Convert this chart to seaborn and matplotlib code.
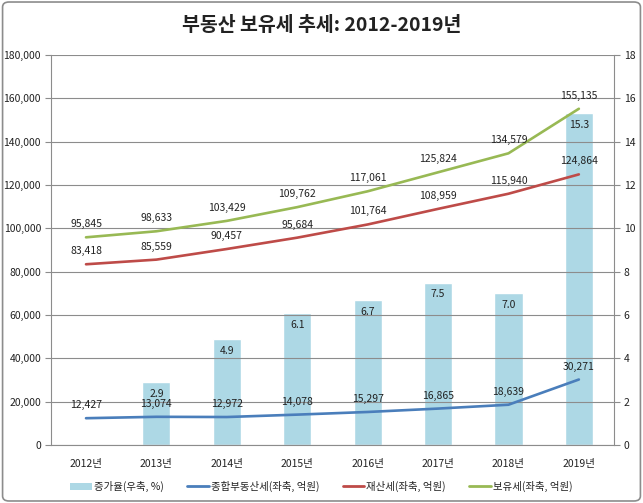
import numpy as np
import pandas as pd
import matplotlib
matplotlib.use('Agg')
import matplotlib.pyplot as plt
import seaborn as sns
from matplotlib.patches import FancyBboxPatch, Patch
from matplotlib.lines import Line2D
from matplotlib.ticker import FuncFormatter, MultipleLocator

# 데이터
years = ['2012년', '2013년', '2014년', '2015년', '2016년', '2017년', '2018년', '2019년']
rate = [0, 2.9, 4.9, 6.1, 6.7, 7.5, 7.0, 15.3]          # 증가율(우축, %)
jongbu = [12427, 13074, 12972, 14078, 15297, 16865, 18639, 30271]      # 종합부동산세
jaesan = [83418, 85559, 90457, 95684, 101764, 108959, 115940, 124864]  # 재산세
boyu = [95845, 98633, 103429, 109762, 117061, 125824, 134579, 155135]  # 보유세

bar_color = '#ADD8E5'
c_blue = '#4A7EBB'
c_red = '#BE4B48'
c_green = '#98B954'
grid_c = '#8C8C8C'

sns.set_style('white')
plt.rcParams['font.family'] = ['Noto Sans CJK KR', 'DejaVu Sans']

fig = plt.figure(figsize=(6.43, 5.03), dpi=100)
ax = fig.add_axes([0.079, 0.115, 0.876, 0.776])

df = pd.DataFrame({'year': years, 'rate': rate})
sns.barplot(data=df, x='year', y='rate', color=bar_color, width=0.4,
            saturation=1, ax=ax, zorder=1)
ax.set_ylim(0, 18)
ax.yaxis.set_major_locator(MultipleLocator(2))
ax.grid(axis='y', color=grid_c, linewidth=0.8, zorder=2)
ax.set_axisbelow(False)
ax.set_xlabel('')
ax.set_ylabel('')

for i, v in enumerate(rate):
    if v > 0:
        ax.text(i, v - 0.55, f'{v:.1f}', ha='center', va='center', fontsize=7.5,
                color='#222222', zorder=5)

ax2 = ax.twinx()
x = np.arange(len(years))
for vals, col in [(jongbu, c_blue), (jaesan, c_red), (boyu, c_green)]:
    sns.lineplot(x=x, y=vals, color=col, linewidth=1.9, ax=ax2, zorder=4)
    for i, v in enumerate(vals):
        ax2.text(i, v + 6000, f'{v:,}', ha='center', va='center', fontsize=7.5,
                 color='#222222', zorder=5)
ax2.set_ylim(0, 180000)
ax2.yaxis.set_major_locator(MultipleLocator(20000))
ax2.yaxis.set_major_formatter(FuncFormatter(lambda v, p: f'{int(v):,}'))
ax2.set_xlim(-0.5, len(years) - 0.5)
ax.set_xlim(-0.5, len(years) - 0.5)

# 증가율은 오른쪽 축, 금액은 왼쪽 축
ax.yaxis.tick_right()
ax.yaxis.set_label_position('right')
ax2.yaxis.tick_left()
ax2.yaxis.set_label_position('left')

for a in (ax, ax2):
    for s in a.spines.values():
        s.set_visible(False)
    a.tick_params(axis='y', length=4, width=0.8, color=grid_c, labelsize=7.5,
                  labelcolor='#222222', pad=3)
ax2.spines['left'].set_visible(True)
ax2.spines['left'].set_color(grid_c)
ax.spines['right'].set_visible(True)
ax.spines['right'].set_color(grid_c)
ax.spines['bottom'].set_visible(True)
ax.spines['bottom'].set_color(grid_c)

ax.set_xticks(x)
ax.set_xticklabels(years)
ax.set_xticks(np.arange(-0.5, len(years)), minor=True)
ax.tick_params(axis='x', which='major', length=0, labelsize=7.5,
               labelcolor='#222222', pad=10)
ax.tick_params(axis='x', which='minor', length=4, width=0.8, color=grid_c)

fig.suptitle('부동산 보유세 추세: 2012-2019년', y=0.968, fontsize=14,
             fontweight='bold', color='#222222')

handles = [Patch(facecolor=bar_color, edgecolor='none'),
           Line2D([0], [0], color=c_blue, lw=2),
           Line2D([0], [0], color=c_red, lw=2),
           Line2D([0], [0], color=c_green, lw=2)]
labels = ['증가율(우축, %)', '종합부동산세(좌축, 억원)', '재산세(좌축, 억원)', '보유세(좌축, 억원)']
fig.legend(handles, labels, loc='center', bbox_to_anchor=(0.5, 0.033), ncol=4,
           frameon=False, fontsize=7.5, handlelength=2.1, handletextpad=0.2,
           columnspacing=2.2, labelcolor='#222222')

fig.patches.append(FancyBboxPatch((0.004, 0.004), 0.992, 0.992,
                                  boxstyle='round,pad=0,rounding_size=0.01',
                                  transform=fig.transFigure, fill=False,
                                  edgecolor='#8C8C8C', linewidth=1.2))

fig.savefig('out.png', dpi=100)
